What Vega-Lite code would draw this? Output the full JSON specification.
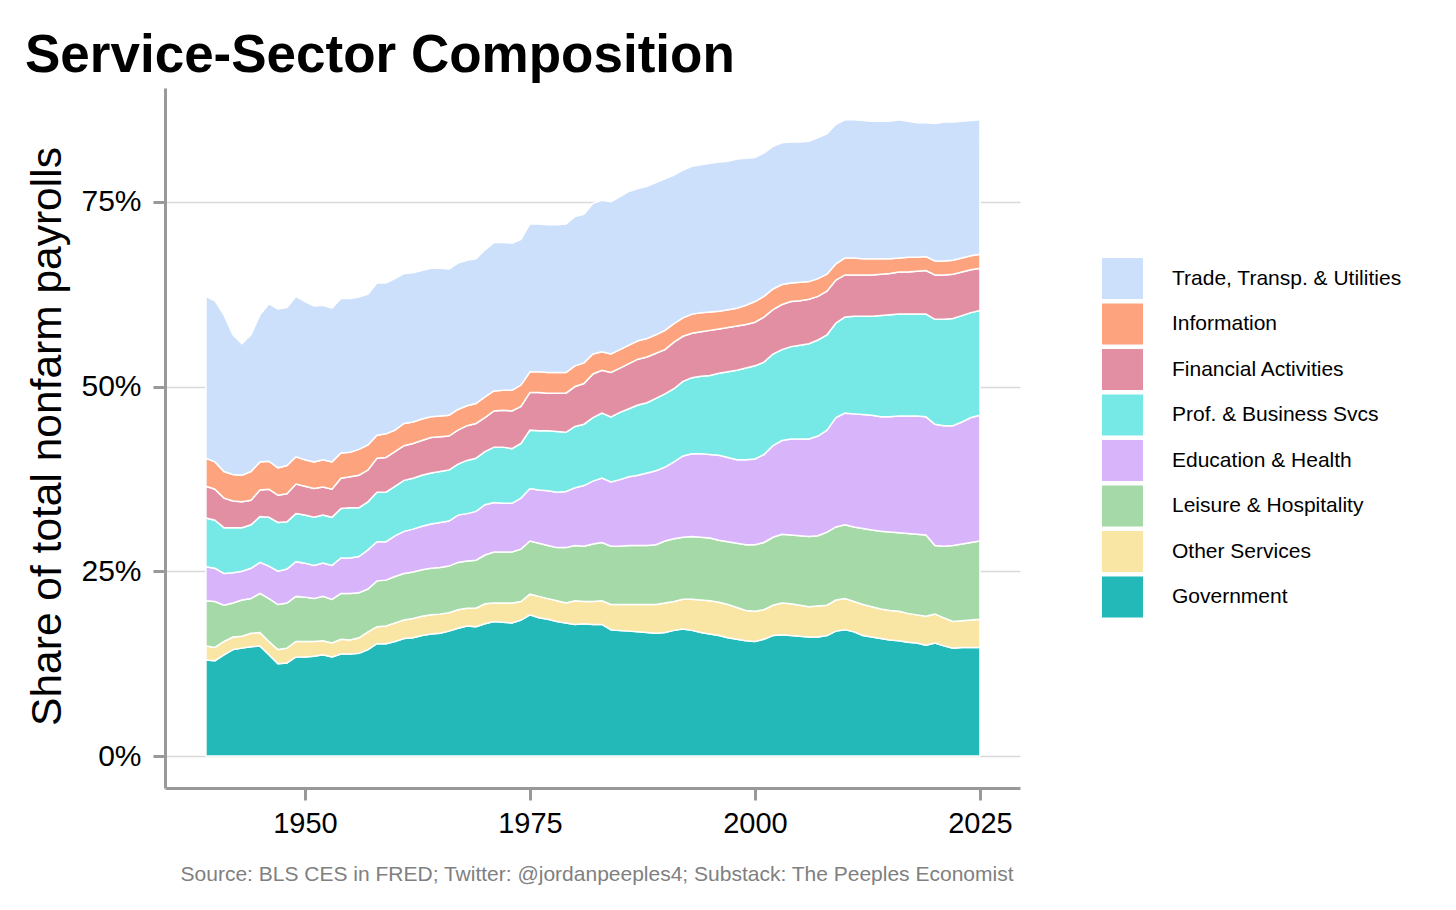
{
  "$schema": "https://vega.github.io/schema/vega-lite/v6.json",
  "autosize": {"type": "none"},
  "width": 855,
  "height": 700,
  "padding": {"left": 165, "top": 88, "right": 436, "bottom": 122},
  "background": "white",
  "config": {
    "font": "Liberation Sans",
    "view": {"stroke": null}
  },
  "title": {
    "text": "Service-Sector Composition",
    "anchor": "start",
    "frame": "group",
    "dx": -140,
    "offset": -37,
    "baseline": "alphabetic",
    "fontSize": 53,
    "fontWeight": "bold",
    "color": "black"
  },
  "datasets": {
    "sectors": [
      {"key": "trd", "label": "Trade, Transp. & Utilities", "rank": 8},
      {"key": "inf", "label": "Information", "rank": 7},
      {"key": "fin", "label": "Financial Activities", "rank": 6},
      {"key": "pro", "label": "Prof. & Business Svcs", "rank": 5},
      {"key": "edu", "label": "Education & Health", "rank": 4},
      {"key": "lei", "label": "Leisure & Hospitality", "rank": 3},
      {"key": "oth", "label": "Other Services", "rank": 2},
      {"key": "gov", "label": "Government", "rank": 1}
    ],
    "shares": [
      {"year": 1939, "gov": 13.0, "oth": 1.9, "lei": 6.1, "edu": 4.6, "pro": 6.6, "fin": 4.3, "inf": 3.8, "trd": 21.9},
      {"year": 1940, "gov": 12.9, "oth": 1.8, "lei": 6.2, "edu": 4.5, "pro": 6.5, "fin": 4.2, "inf": 3.7, "trd": 21.8},
      {"year": 1941, "gov": 13.7, "oth": 1.8, "lei": 4.9, "edu": 4.3, "pro": 6.2, "fin": 4.0, "inf": 3.6, "trd": 21.2},
      {"year": 1942, "gov": 14.4, "oth": 1.7, "lei": 4.6, "edu": 4.1, "pro": 6.1, "fin": 3.6, "inf": 3.6, "trd": 18.9},
      {"year": 1943, "gov": 14.6, "oth": 1.6, "lei": 4.9, "edu": 3.9, "pro": 5.9, "fin": 3.5, "inf": 3.6, "trd": 17.8},
      {"year": 1944, "gov": 14.8, "oth": 1.8, "lei": 4.7, "edu": 4.1, "pro": 5.9, "fin": 3.3, "inf": 3.9, "trd": 18.5},
      {"year": 1945, "gov": 14.9, "oth": 1.8, "lei": 5.3, "edu": 4.2, "pro": 6.2, "fin": 3.6, "inf": 3.8, "trd": 19.9},
      {"year": 1946, "gov": 13.7, "oth": 1.8, "lei": 5.8, "edu": 4.4, "pro": 6.6, "fin": 3.8, "inf": 3.8, "trd": 21.3},
      {"year": 1947, "gov": 12.5, "oth": 1.9, "lei": 6.1, "edu": 4.5, "pro": 6.6, "fin": 3.7, "inf": 3.7, "trd": 21.5},
      {"year": 1948, "gov": 12.6, "oth": 2.0, "lei": 6.1, "edu": 4.6, "pro": 6.4, "fin": 3.8, "inf": 3.8, "trd": 21.4},
      {"year": 1949, "gov": 13.4, "oth": 2.1, "lei": 6.1, "edu": 4.7, "pro": 6.5, "fin": 4.0, "inf": 3.7, "trd": 21.7},
      {"year": 1950, "gov": 13.4, "oth": 2.1, "lei": 6.0, "edu": 4.6, "pro": 6.5, "fin": 3.9, "inf": 3.6, "trd": 21.4},
      {"year": 1951, "gov": 13.5, "oth": 2.0, "lei": 5.8, "edu": 4.5, "pro": 6.5, "fin": 3.9, "inf": 3.6, "trd": 21.1},
      {"year": 1952, "gov": 13.7, "oth": 1.9, "lei": 6.0, "edu": 4.5, "pro": 6.5, "fin": 3.8, "inf": 3.7, "trd": 20.9},
      {"year": 1953, "gov": 13.4, "oth": 1.9, "lei": 5.9, "edu": 4.6, "pro": 6.5, "fin": 3.8, "inf": 3.7, "trd": 20.8},
      {"year": 1954, "gov": 13.8, "oth": 2.0, "lei": 6.2, "edu": 4.8, "pro": 6.7, "fin": 4.1, "inf": 3.4, "trd": 20.9},
      {"year": 1955, "gov": 13.8, "oth": 1.9, "lei": 6.3, "edu": 4.8, "pro": 6.8, "fin": 4.2, "inf": 3.3, "trd": 20.8},
      {"year": 1956, "gov": 13.9, "oth": 2.1, "lei": 6.1, "edu": 4.9, "pro": 6.6, "fin": 4.4, "inf": 3.5, "trd": 20.6},
      {"year": 1957, "gov": 14.4, "oth": 2.4, "lei": 5.8, "edu": 5.3, "pro": 6.5, "fin": 4.3, "inf": 3.4, "trd": 20.4},
      {"year": 1958, "gov": 15.2, "oth": 2.3, "lei": 6.2, "edu": 5.3, "pro": 6.7, "fin": 4.6, "inf": 3.1, "trd": 20.6},
      {"year": 1959, "gov": 15.2, "oth": 2.4, "lei": 6.2, "edu": 5.2, "pro": 6.7, "fin": 4.7, "inf": 3.2, "trd": 20.4},
      {"year": 1960, "gov": 15.5, "oth": 2.5, "lei": 6.3, "edu": 5.5, "pro": 6.7, "fin": 4.7, "inf": 2.9, "trd": 20.5},
      {"year": 1961, "gov": 15.9, "oth": 2.5, "lei": 6.3, "edu": 5.7, "pro": 6.9, "fin": 4.7, "inf": 3.0, "trd": 20.3},
      {"year": 1962, "gov": 16.0, "oth": 2.6, "lei": 6.3, "edu": 5.8, "pro": 6.9, "fin": 4.7, "inf": 2.9, "trd": 20.2},
      {"year": 1963, "gov": 16.3, "oth": 2.6, "lei": 6.3, "edu": 5.9, "pro": 6.9, "fin": 4.7, "inf": 2.9, "trd": 20.1},
      {"year": 1964, "gov": 16.5, "oth": 2.6, "lei": 6.3, "edu": 6.0, "pro": 6.9, "fin": 4.8, "inf": 2.8, "trd": 20.1},
      {"year": 1965, "gov": 16.6, "oth": 2.6, "lei": 6.3, "edu": 6.1, "pro": 6.9, "fin": 4.7, "inf": 2.8, "trd": 20.0},
      {"year": 1966, "gov": 16.9, "oth": 2.5, "lei": 6.3, "edu": 6.1, "pro": 6.9, "fin": 4.6, "inf": 2.8, "trd": 19.8},
      {"year": 1967, "gov": 17.3, "oth": 2.5, "lei": 6.4, "edu": 6.4, "pro": 6.9, "fin": 4.6, "inf": 2.8, "trd": 19.8},
      {"year": 1968, "gov": 17.6, "oth": 2.4, "lei": 6.4, "edu": 6.4, "pro": 7.2, "fin": 4.7, "inf": 2.7, "trd": 19.7},
      {"year": 1969, "gov": 17.5, "oth": 2.5, "lei": 6.5, "edu": 6.6, "pro": 7.2, "fin": 4.7, "inf": 2.7, "trd": 19.6},
      {"year": 1970, "gov": 17.9, "oth": 2.7, "lei": 6.6, "edu": 6.8, "pro": 7.2, "fin": 4.6, "inf": 2.8, "trd": 19.9},
      {"year": 1971, "gov": 18.2, "oth": 2.5, "lei": 6.9, "edu": 6.7, "pro": 7.5, "fin": 4.9, "inf": 2.7, "trd": 20.1},
      {"year": 1972, "gov": 18.1, "oth": 2.6, "lei": 6.9, "edu": 6.6, "pro": 7.6, "fin": 5.0, "inf": 2.7, "trd": 20.0},
      {"year": 1973, "gov": 18.0, "oth": 2.7, "lei": 6.9, "edu": 6.6, "pro": 7.4, "fin": 5.1, "inf": 2.8, "trd": 19.9},
      {"year": 1974, "gov": 18.4, "oth": 2.5, "lei": 7.1, "edu": 6.9, "pro": 7.4, "fin": 5.0, "inf": 2.9, "trd": 19.7},
      {"year": 1975, "gov": 19.1, "oth": 2.8, "lei": 7.2, "edu": 7.1, "pro": 7.9, "fin": 5.1, "inf": 2.8, "trd": 20.0},
      {"year": 1976, "gov": 18.7, "oth": 2.9, "lei": 7.2, "edu": 7.2, "pro": 8.0, "fin": 5.2, "inf": 2.8, "trd": 20.0},
      {"year": 1977, "gov": 18.5, "oth": 2.8, "lei": 7.2, "edu": 7.4, "pro": 8.1, "fin": 5.1, "inf": 2.8, "trd": 20.0},
      {"year": 1978, "gov": 18.2, "oth": 2.8, "lei": 7.2, "edu": 7.5, "pro": 8.2, "fin": 5.2, "inf": 2.8, "trd": 20.0},
      {"year": 1979, "gov": 18.0, "oth": 2.7, "lei": 7.5, "edu": 7.6, "pro": 8.0, "fin": 5.3, "inf": 2.8, "trd": 20.1},
      {"year": 1980, "gov": 17.8, "oth": 3.2, "lei": 7.5, "edu": 7.8, "pro": 8.3, "fin": 5.4, "inf": 2.8, "trd": 20.2},
      {"year": 1981, "gov": 17.9, "oth": 3.0, "lei": 7.5, "edu": 8.2, "pro": 8.3, "fin": 5.5, "inf": 2.8, "trd": 20.1},
      {"year": 1982, "gov": 17.8, "oth": 3.1, "lei": 7.8, "edu": 8.5, "pro": 8.6, "fin": 5.9, "inf": 2.7, "trd": 20.4},
      {"year": 1983, "gov": 17.8, "oth": 3.2, "lei": 7.9, "edu": 8.7, "pro": 8.8, "fin": 5.8, "inf": 2.5, "trd": 20.5},
      {"year": 1984, "gov": 17.1, "oth": 3.4, "lei": 7.9, "edu": 8.7, "pro": 8.8, "fin": 6.0, "inf": 2.5, "trd": 20.6},
      {"year": 1985, "gov": 17.0, "oth": 3.5, "lei": 7.9, "edu": 9.0, "pro": 9.1, "fin": 6.0, "inf": 2.5, "trd": 20.7},
      {"year": 1986, "gov": 16.9, "oth": 3.6, "lei": 8.0, "edu": 9.3, "pro": 9.2, "fin": 6.1, "inf": 2.5, "trd": 20.8},
      {"year": 1987, "gov": 16.8, "oth": 3.7, "lei": 8.0, "edu": 9.5, "pro": 9.5, "fin": 6.2, "inf": 2.5, "trd": 20.6},
      {"year": 1988, "gov": 16.7, "oth": 3.8, "lei": 8.0, "edu": 9.8, "pro": 9.5, "fin": 6.2, "inf": 2.5, "trd": 20.6},
      {"year": 1989, "gov": 16.6, "oth": 3.9, "lei": 8.1, "edu": 10.0, "pro": 9.8, "fin": 6.1, "inf": 2.5, "trd": 20.6},
      {"year": 1990, "gov": 16.7, "oth": 4.0, "lei": 8.4, "edu": 10.0, "pro": 9.9, "fin": 6.0, "inf": 2.6, "trd": 20.5},
      {"year": 1991, "gov": 17.0, "oth": 3.9, "lei": 8.5, "edu": 10.4, "pro": 9.9, "fin": 6.3, "inf": 2.5, "trd": 20.1},
      {"year": 1992, "gov": 17.2, "oth": 4.0, "lei": 8.4, "edu": 11.0, "pro": 10.1, "fin": 6.1, "inf": 2.5, "trd": 20.0},
      {"year": 1993, "gov": 17.0, "oth": 4.2, "lei": 8.5, "edu": 11.2, "pro": 10.3, "fin": 6.0, "inf": 2.6, "trd": 20.0},
      {"year": 1994, "gov": 16.7, "oth": 4.4, "lei": 8.5, "edu": 11.3, "pro": 10.5, "fin": 6.0, "inf": 2.6, "trd": 20.0},
      {"year": 1995, "gov": 16.5, "oth": 4.5, "lei": 8.5, "edu": 11.3, "pro": 10.7, "fin": 6.1, "inf": 2.5, "trd": 20.1},
      {"year": 1996, "gov": 16.3, "oth": 4.5, "lei": 8.4, "edu": 11.5, "pro": 11.1, "fin": 6.0, "inf": 2.4, "trd": 20.2},
      {"year": 1997, "gov": 16.0, "oth": 4.5, "lei": 8.5, "edu": 11.4, "pro": 11.6, "fin": 6.0, "inf": 2.4, "trd": 20.1},
      {"year": 1998, "gov": 15.8, "oth": 4.3, "lei": 8.7, "edu": 11.3, "pro": 12.1, "fin": 6.0, "inf": 2.4, "trd": 20.2},
      {"year": 1999, "gov": 15.6, "oth": 4.1, "lei": 8.9, "edu": 11.5, "pro": 12.4, "fin": 5.9, "inf": 2.6, "trd": 19.9},
      {"year": 2000, "gov": 15.5, "oth": 4.1, "lei": 9.0, "edu": 11.6, "pro": 12.6, "fin": 5.9, "inf": 2.8, "trd": 19.5},
      {"year": 2001, "gov": 15.8, "oth": 4.0, "lei": 9.1, "edu": 11.9, "pro": 12.5, "fin": 6.1, "inf": 2.8, "trd": 19.4},
      {"year": 2002, "gov": 16.3, "oth": 4.1, "lei": 9.2, "edu": 12.4, "pro": 12.4, "fin": 6.0, "inf": 2.8, "trd": 19.3},
      {"year": 2003, "gov": 16.4, "oth": 4.3, "lei": 9.3, "edu": 12.7, "pro": 12.3, "fin": 6.1, "inf": 2.7, "trd": 19.2},
      {"year": 2004, "gov": 16.3, "oth": 4.3, "lei": 9.3, "edu": 13.0, "pro": 12.5, "fin": 6.1, "inf": 2.5, "trd": 19.1},
      {"year": 2005, "gov": 16.2, "oth": 4.2, "lei": 9.4, "edu": 13.1, "pro": 12.7, "fin": 6.0, "inf": 2.5, "trd": 19.0},
      {"year": 2006, "gov": 16.1, "oth": 4.1, "lei": 9.5, "edu": 13.2, "pro": 12.9, "fin": 6.0, "inf": 2.4, "trd": 19.0},
      {"year": 2007, "gov": 16.1, "oth": 4.2, "lei": 9.5, "edu": 13.5, "pro": 13.0, "fin": 5.9, "inf": 2.4, "trd": 19.1},
      {"year": 2008, "gov": 16.3, "oth": 4.1, "lei": 9.9, "edu": 13.8, "pro": 12.9, "fin": 5.9, "inf": 2.3, "trd": 19.0},
      {"year": 2009, "gov": 16.9, "oth": 4.2, "lei": 9.9, "edu": 14.8, "pro": 12.8, "fin": 5.8, "inf": 2.2, "trd": 18.9},
      {"year": 2010, "gov": 17.1, "oth": 4.2, "lei": 10.0, "edu": 15.1, "pro": 13.0, "fin": 5.7, "inf": 2.3, "trd": 18.7},
      {"year": 2011, "gov": 16.8, "oth": 4.1, "lei": 10.1, "edu": 15.3, "pro": 13.2, "fin": 5.6, "inf": 2.3, "trd": 18.7},
      {"year": 2012, "gov": 16.3, "oth": 4.2, "lei": 10.3, "edu": 15.4, "pro": 13.3, "fin": 5.6, "inf": 2.2, "trd": 18.7},
      {"year": 2013, "gov": 16.1, "oth": 4.1, "lei": 10.4, "edu": 15.5, "pro": 13.4, "fin": 5.6, "inf": 2.2, "trd": 18.6},
      {"year": 2014, "gov": 15.9, "oth": 4.0, "lei": 10.5, "edu": 15.5, "pro": 13.7, "fin": 5.6, "inf": 2.1, "trd": 18.6},
      {"year": 2015, "gov": 15.7, "oth": 4.0, "lei": 10.6, "edu": 15.6, "pro": 13.8, "fin": 5.6, "inf": 2.0, "trd": 18.6},
      {"year": 2016, "gov": 15.6, "oth": 4.0, "lei": 10.6, "edu": 15.8, "pro": 13.8, "fin": 5.7, "inf": 1.9, "trd": 18.7},
      {"year": 2017, "gov": 15.4, "oth": 3.9, "lei": 10.8, "edu": 15.9, "pro": 13.8, "fin": 5.7, "inf": 2.0, "trd": 18.4},
      {"year": 2018, "gov": 15.3, "oth": 3.8, "lei": 10.9, "edu": 16.0, "pro": 13.8, "fin": 5.8, "inf": 1.9, "trd": 18.2},
      {"year": 2019, "gov": 15.0, "oth": 3.9, "lei": 11.0, "edu": 16.0, "pro": 13.9, "fin": 5.9, "inf": 1.9, "trd": 18.1},
      {"year": 2020, "gov": 15.3, "oth": 3.9, "lei": 9.3, "edu": 16.4, "pro": 14.2, "fin": 6.0, "inf": 1.9, "trd": 18.6},
      {"year": 2021, "gov": 14.9, "oth": 3.8, "lei": 9.7, "edu": 16.3, "pro": 14.4, "fin": 6.0, "inf": 1.9, "trd": 18.8},
      {"year": 2022, "gov": 14.6, "oth": 3.6, "lei": 10.3, "edu": 16.2, "pro": 14.5, "fin": 6.0, "inf": 1.9, "trd": 18.7},
      {"year": 2023, "gov": 14.7, "oth": 3.6, "lei": 10.4, "edu": 16.5, "pro": 14.4, "fin": 5.9, "inf": 1.9, "trd": 18.5},
      {"year": 2024, "gov": 14.7, "oth": 3.7, "lei": 10.5, "edu": 16.9, "pro": 14.2, "fin": 5.8, "inf": 1.9, "trd": 18.3},
      {"year": 2025, "gov": 14.7, "oth": 3.8, "lei": 10.6, "edu": 17.0, "pro": 14.2, "fin": 5.7, "inf": 1.9, "trd": 18.2}
    ]
  },
  "data": {"name": "shares"},
  "transform": [
    {"fold": ["gov", "oth", "lei", "edu", "pro", "fin", "inf", "trd"], "as": ["key", "share"]},
    {"lookup": "key", "from": {"data": {"name": "sectors"}, "key": "key", "fields": ["label", "rank"]}}
  ],
  "mark": {"type": "area", "stroke": "white", "strokeWidth": 1.5, "opacity": 1},
  "encoding": {
    "x": {
      "field": "year",
      "type": "quantitative",
      "scale": {"domain": [1934.45, 2029.45], "nice": false, "zero": false},
      "axis": {
        "values": [1950, 1975, 2000, 2025],
        "format": "d",
        "grid": false,
        "domainColor": "#999999",
        "domainWidth": 3,
        "tickColor": "#999999",
        "tickWidth": 3,
        "tickSize": 12,
        "labelFontSize": 29,
        "labelColor": "black",
        "labelPadding": 9,
        "title": "Source: BLS CES in FRED; Twitter: @jordanpeeples4; Substack: The Peeples Economist",
        "titleFontSize": 21,
        "titleFontWeight": "normal",
        "titleColor": "#808080",
        "titleAlign": "right",
        "titleAnchor": "end",
        "titleBaseline": "alphabetic",
        "titleX": 848,
        "titleY": 92
      }
    },
    "y": {
      "field": "share",
      "type": "quantitative",
      "stack": "zero",
      "scale": {"domain": [-4.33, 90.4], "nice": false, "zero": false},
      "axis": {
        "values": [0, 25, 50, 75],
        "labelExpr": "datum.value + '%'",
        "grid": true,
        "gridColor": "#d9d9d9",
        "gridWidth": 1.5,
        "domainColor": "#999999",
        "domainWidth": 3,
        "tickColor": "#999999",
        "tickWidth": 3,
        "tickSize": 12,
        "labelFontSize": 30,
        "labelColor": "black",
        "labelPadding": 12,
        "title": "Share of total nonfarm payrolls",
        "titleFontSize": 42.5,
        "titleFontWeight": "normal",
        "titleColor": "black",
        "titleAngle": -90,
        "titleAlign": "center",
        "titleBaseline": "alphabetic",
        "titleX": -105,
        "titleY": 348
      }
    },
    "color": {
      "field": "label",
      "type": "nominal",
      "scale": {
        "domain": ["Trade, Transp. & Utilities", "Information", "Financial Activities", "Prof. & Business Svcs", "Education & Health", "Leisure & Hospitality", "Other Services", "Government"],
        "range": ["#cce0fc", "#fda47e", "#e28fa4", "#76e8e6", "#d8b4fb", "#a6d9a8", "#f9e5a4", "#23b9b9"]
      },
      "legend": {
        "title": null,
        "orient": "none",
        "legendX": 937,
        "legendY": 170,
        "padding": 0,
        "symbolType": "square",
        "symbolSize": 1681,
        "symbolStrokeWidth": 0,
        "symbolOpacity": 1,
        "rowPadding": 4.5,
        "labelOffset": 29,
        "labelFontSize": 21,
        "labelColor": "black",
        "labelLimit": 400
      }
    },
    "order": {"field": "rank", "type": "quantitative"}
  }
}
